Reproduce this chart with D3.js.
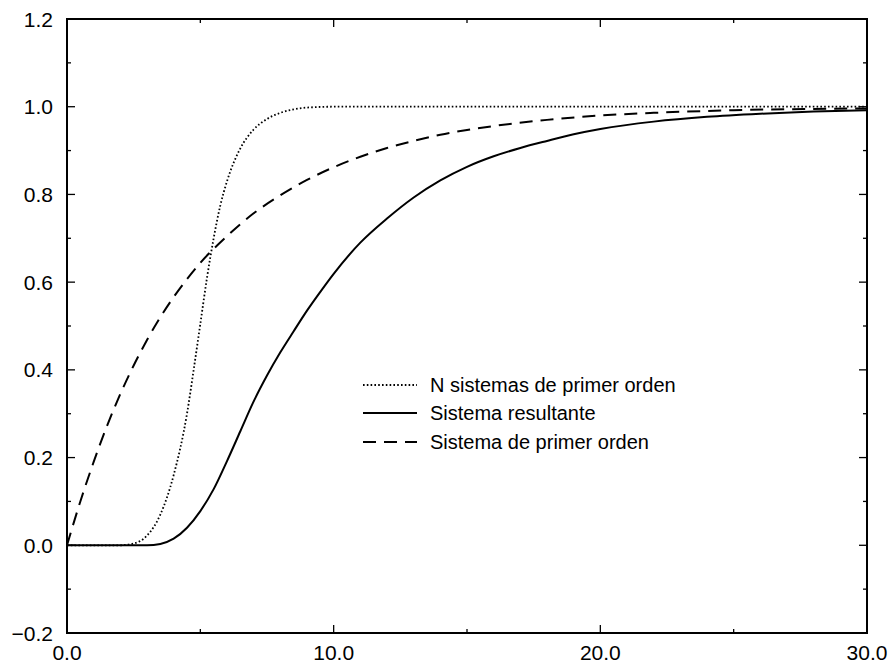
<!DOCTYPE html>
<html>
<head>
<meta charset="utf-8">
<script src="https://cdn.jsdelivr.net/npm/d3@7"></script>
<style>
  html, body { margin: 0; padding: 0; background: #fff; }
  svg { display: block; font-family: "Liberation Sans", Arial, Helvetica, sans-serif; }
</style>
</head>
<body>
<div id="chart"></div>
<script>
// values
const tFirst = [0, 0.5, 1, 1.5, 2, 2.5, 3, 3.5, 4, 4.5, 5, 6, 7, 8, 9, 10, 11, 12, 13, 14, 15, 16, 18, 20, 22, 25, 30];
const vFirst = [0, 0.10, 0.19, 0.272, 0.345, 0.41, 0.468, 0.52, 0.566, 0.607, 0.644, 0.705, 0.757, 0.798, 0.833, 0.862, 0.886, 0.906, 0.922, 0.936, 0.947, 0.956, 0.970, 0.980, 0.986, 0.992, 0.996];

const tNsys = [0, 2, 2.5, 3, 3.5, 4, 4.5, 4.75, 5, 5.25, 5.5, 5.75, 6, 6.5, 7, 7.5, 8, 8.5, 9, 10, 30];
const vNsys = [0, 0, 0.004, 0.022, 0.07, 0.16, 0.30, 0.40, 0.505, 0.61, 0.70, 0.775, 0.83, 0.905, 0.948, 0.972, 0.986, 0.994, 0.998, 1.0, 1.0];

const tResult = [0, 3, 3.5, 4, 4.5, 5, 5.5, 6, 6.5, 7, 7.5, 8, 8.5, 9, 9.5, 10, 11, 12, 13, 14, 15, 16, 17, 18, 19, 20, 22, 24, 26, 28, 30];
const vResult = [0, 0, 0.003, 0.015, 0.040, 0.078, 0.128, 0.192, 0.260, 0.328, 0.387, 0.44, 0.488, 0.535, 0.578, 0.619, 0.69, 0.745, 0.793, 0.832, 0.863, 0.887, 0.906, 0.922, 0.937, 0.949, 0.966, 0.977, 0.984, 0.989, 0.992];

const xTicks = [0, 10, 20, 30];
const xMinor = [5, 15, 25];
const yTicks = [-0.2, 0, 0.2, 0.4, 0.6, 0.8, 1.0, 1.2];
const yMinor = [-0.1, 0.1, 0.3, 0.5, 0.7, 0.9, 1.1];

const legendLabels = ["N sistemas de primer orden", "Sistema resultante", "Sistema de primer orden"];

const width = 893, height = 665;
const margin = { top: 19, right: 26, bottom: 32, left: 67 };

const svg = d3.select("#chart").append("svg")
  .attr("width", width)
  .attr("height", height);

const x = d3.scaleLinear().domain([0, 30]).range([margin.left, width - margin.right]);
const y = d3.scaleLinear().domain([-0.2, 1.2]).range([height - margin.bottom, margin.top]);

const [x0, x1] = x.range();
const [y0, y1] = y.range();

// ticks, pointing inward on all four sides
const tickG = svg.append("g").attr("stroke", "#000").attr("stroke-width", 1.3);
const tk = (vals, len, side) => {
  vals.forEach((v) => {
    if (side === "bottom") tickG.append("line").attr("x1", x(v)).attr("x2", x(v)).attr("y1", y0).attr("y2", y0 - len);
    if (side === "top") tickG.append("line").attr("x1", x(v)).attr("x2", x(v)).attr("y1", y1).attr("y2", y1 + len);
    if (side === "left") tickG.append("line").attr("x1", x0).attr("x2", x0 + len).attr("y1", y(v)).attr("y2", y(v));
    if (side === "right") tickG.append("line").attr("x1", x1).attr("x2", x1 - len).attr("y1", y(v)).attr("y2", y(v));
  });
};
["bottom", "top"].forEach((s) => { tk(xTicks, 8, s); tk(xMinor, 4, s); });
["left", "right"].forEach((s) => { tk(yTicks, 8, s); tk(yMinor, 4, s); });

// frame
svg.append("rect")
  .attr("x", x0).attr("y", y1)
  .attr("width", x1 - x0).attr("height", y0 - y1)
  .attr("fill", "none").attr("stroke", "#000").attr("stroke-width", 2);

// tick labels
svg.append("g").selectAll("text")
  .data(yTicks)
  .join("text")
  .attr("x", x0 - 14)
  .attr("y", (d) => y(d))
  .attr("dy", "0.36em")
  .attr("text-anchor", "end")
  .attr("font-size", 21)
  .text((d) => d3.format(".1f")(d));

svg.append("g").selectAll("text")
  .data(xTicks)
  .join("text")
  .attr("x", (d) => x(d))
  .attr("y", y0 + 27)
  .attr("text-anchor", "middle")
  .attr("font-size", 21)
  .text((d) => d3.format(".1f")(d));

// curves
const line = d3.line()
  .x((d) => x(d[0]))
  .y((d) => y(d[1]))
  .curve(d3.curveMonotoneX);

const series = [
  { name: legendLabels[0], pts: d3.zip(tNsys, vNsys), dash: "1.6,2.2", w: 1.8 },
  { name: legendLabels[1], pts: d3.zip(tResult, vResult), dash: null, w: 2 },
  { name: legendLabels[2], pts: d3.zip(tFirst, vFirst), dash: "13,8", w: 2 },
];

svg.append("g").selectAll("path")
  .data(series)
  .join("path")
  .attr("fill", "none")
  .attr("stroke", "#000")
  .attr("stroke-width", (d) => d.w)
  .attr("stroke-dasharray", (d) => d.dash)
  .attr("d", (d) => line(d.pts));

// legend
const legend = svg.append("g");
const rowY = [385, 413, 442];
series.forEach((s, i) => {
  legend.append("line")
    .attr("x1", 363).attr("x2", 417)
    .attr("y1", rowY[i]).attr("y2", rowY[i])
    .attr("stroke", "#000")
    .attr("stroke-width", s.w)
    .attr("stroke-dasharray", s.dash);
  legend.append("text")
    .attr("x", 430)
    .attr("y", rowY[i])
    .attr("dy", "0.36em")
    .attr("font-size", 20)
    .text(s.name);
});
</script>
</body>
</html>
